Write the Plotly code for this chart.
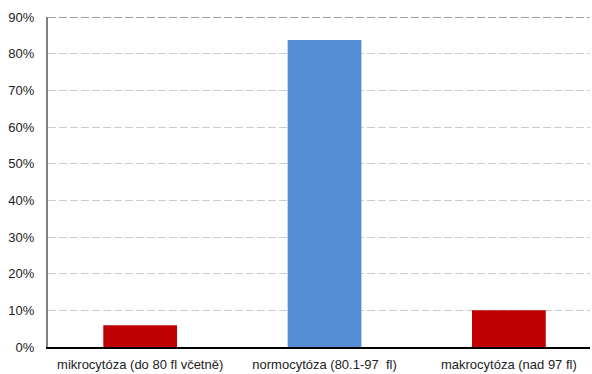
import plotly.graph_objects as go

categories = ["mikrocytóza (do 80 fl včetně)", "normocytóza (80.1-97  fl)", "makrocytóza (nad 97 fl)"]
values = [0.059, 0.837, 0.10]
colors = ["#C00000", "#558ED5", "#C00000"]
y_ticks = [0, 0.1, 0.2, 0.3, 0.4, 0.5, 0.6, 0.7, 0.8, 0.9]

fig = go.Figure(go.Bar(x=categories, y=values, marker=dict(color=colors, line=dict(width=0)), width=0.40))

fig.update_layout(
    width=592, height=374,
    margin=dict(l=48, r=2, t=17, b=27),
    paper_bgcolor="white", plot_bgcolor="white",
    font=dict(family="Liberation Sans, Arial, sans-serif", size=13, color="#222"),
    showlegend=False,
)
fig.update_yaxes(
    range=[0, 0.9], tickvals=y_ticks, tickformat=".0%",
    showgrid=True, gridcolor="#CCCCCC", griddash="8px,3px", gridwidth=1,
    showline=True, linecolor="#808080", linewidth=2,
    ticks="", ticklen=0, zeroline=False, fixedrange=True,
    ticklabelstandoff=9, automargin=False,
)
fig.update_xaxes(
    range=[-0.5, 2.44],
    showline=True, linecolor="#000000", linewidth=1.5, ticks="", fixedrange=True,
    ticklabelstandoff=5, automargin=False,
)
fig.add_shape(type="line", xref="paper", yref="y", x0=0, x1=1, y0=0.9, y1=0.9,
              line=dict(color="#A0A0A0", width=2, dash="8px,3px"))

fig.write_html("out.html")
